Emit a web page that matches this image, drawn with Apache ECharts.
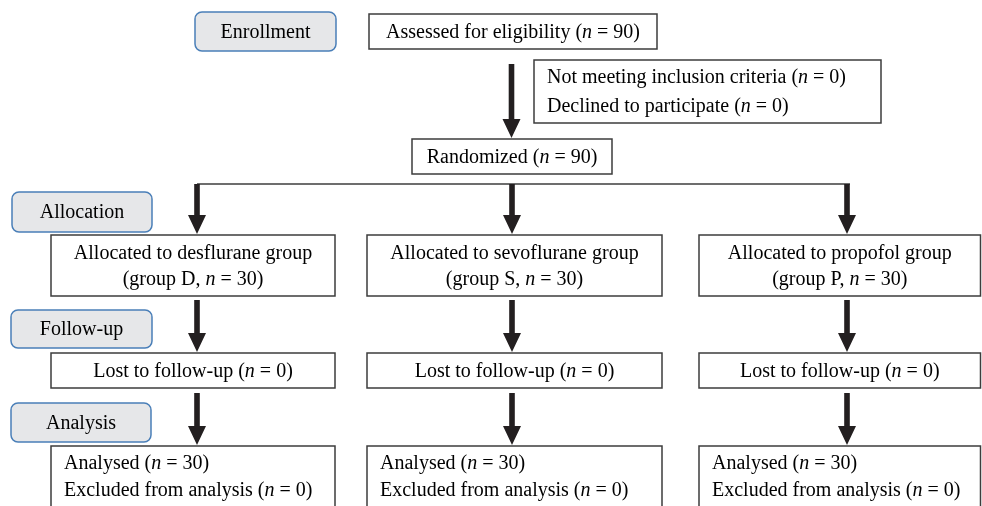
<!DOCTYPE html>
<html>
<head>
    <meta charset="utf-8">
    <title>CONSORT flow diagram</title>
    <script src="https://cdn.jsdelivr.net/npm/echarts@6/dist/echarts.min.js"></script>
    <style>
        body, html { margin: 0; padding: 0; width: 100%; height: 100%; overflow: hidden; background: #fff; }
        #main { width: 982px; height: 506px; }
    </style>
</head>
<body>
    <div id="main"></div>
    <script type="text/javascript">
        // --- data ---
        var stageLabels = ['Enrollment', 'Allocation', 'Follow-up', 'Analysis'];
        var assessedN = 90;
        var notMeetingN = 0;
        var declinedN = 0;
        var randomizedN = 90;
        var groupDrugs = ['desflurane', 'sevoflurane', 'propofol'];
        var groupCodes = ['D', 'S', 'P'];
        var allocatedN = [30, 30, 30];
        var lostN = [0, 0, 0];
        var analysedN = [30, 30, 30];
        var excludedN = [0, 0, 0];

        // --- layout (pixel-like units on hidden 982 x 506 axes) ---
        var stageBoxes = [[195, 12, 336, 51], [12, 192, 152, 232], [11, 310, 152, 348], [11, 403, 151, 442]];
        var colSpan = [[51, 335], [367, 662], [699, 980.5]];
        var colMid = [197, 512, 847];
        var rowAlloc = [235, 296], rowLost = [353, 388], rowAnal = [446, 515];

        var FONT = '"Liberation Serif", "DejaVu Serif", serif';
        function makeRich(lh) {
            return {
                t: { fontFamily: FONT, fontSize: 20, color: '#231f20', lineHeight: lh },
                i: { fontFamily: FONT, fontSize: 20, color: '#231f20', fontStyle: 'italic', lineHeight: lh }
            };
        }
        function nt(label, n) {
            return '{t|' + label + ' (}{i|n}{t| = ' + n + ')}';
        }

        // boxes: [x1, y1, x2, y2, text, align, kind, lineHeight]
        var boxes = [];
        stageLabels.forEach(function (s, k) {
            var b = stageBoxes[k];
            boxes.push([b[0], b[1], b[2], b[3], '{t|' + s + '}', 'center', 'stage', 27]);
        });
        boxes.push([369, 14, 657, 49, nt('Assessed for eligibility', assessedN), 'center', 'box', 27]);
        boxes.push([534, 60, 881, 123, nt('Not meeting inclusion criteria', notMeetingN) + '\n' + nt('Declined to participate', declinedN), 'left', 'box', 29]);
        boxes.push([412, 139, 612, 174, nt('Randomized', randomizedN), 'center', 'box', 27]);
        groupDrugs.forEach(function (d, g) {
            var c = colSpan[g];
            boxes.push([c[0], rowAlloc[0], c[1], rowAlloc[1],
                '{t|Allocated to ' + d + ' group}\n{t|(group ' + groupCodes[g] + ', }{i|n}{t| = ' + allocatedN[g] + ')}', 'center', 'box', 26]);
            boxes.push([c[0], rowLost[0], c[1], rowLost[1], nt('Lost to follow-up', lostN[g]), 'center', 'box', 27]);
            boxes.push([c[0], rowAnal[0], c[1], rowAnal[1],
                nt('Analysed', analysedN[g]) + '\n' + nt('Excluded from analysis', excludedN[g]), 'left', 'anal', 27]);
        });

        // arrows: [x, yStart, yTip]
        var arrows = [[511.5, 64, 138]];
        colMid.forEach(function (x) {
            arrows.push([x, 184, rowAlloc[0] - 1]);
            arrows.push([x, 300, rowLost[0] - 1]);
            arrows.push([x, 393, rowAnal[0] - 1]);
        });

        // connector line: [x1, y1, x2, y2]
        var lines = [[colMid[0], 184, colMid[2] + 3, 184]];

        function renderBox(params, api) {
            var p1 = api.coord([api.value(0), api.value(1)]);
            var p2 = api.coord([api.value(2), api.value(3)]);
            var item = boxes[params.dataIndex];
            var stage = item[6] === 'stage';
            var align = item[5];
            var w = p2[0] - p1[0], h = p2[1] - p1[1];
            var cy = item[6] === 'anal' ? p1[1] + 31 : p1[1] + h / 2 + 1;
            return {
                type: 'group',
                children: [{
                    type: 'rect',
                    shape: { x: p1[0], y: p1[1], width: w, height: h, r: stage ? 7 : 0 },
                    style: { fill: stage ? '#e6e7e9' : '#fff', stroke: stage ? '#4a7fb8' : '#3d3d3d', lineWidth: 1.5 }
                }, {
                    type: 'text',
                    x: align === 'left' ? p1[0] + 13 : p1[0] + w / 2,
                    y: cy,
                    style: { text: item[4], rich: makeRich(item[7]), align: align, verticalAlign: 'middle' }
                }]
            };
        }

        function renderArrow(params, api) {
            var top = api.coord([api.value(0), api.value(1)]);
            var tip = api.coord([api.value(0), api.value(2)]);
            var x = top[0], sw = 2.8, hw = 9, hl = 19;
            return {
                type: 'polygon',
                shape: { points: [[x - sw, top[1]], [x + sw, top[1]], [x + sw, tip[1] - hl], [x + hw, tip[1] - hl],
                    [x, tip[1]], [x - hw, tip[1] - hl], [x - sw, tip[1] - hl]] },
                style: { fill: '#231f20' }
            };
        }

        function renderLine(params, api) {
            var a = api.coord([api.value(0), api.value(1)]);
            var b = api.coord([api.value(2), api.value(3)]);
            return {
                type: 'line',
                shape: { x1: a[0], y1: a[1], x2: b[0], y2: b[1] },
                style: { stroke: '#3d3d3d', lineWidth: 1.5 }
            };
        }

        var myChart = echarts.init(document.getElementById('main'));
        myChart.setOption({
            animation: false,
            grid: { left: 0, right: 0, top: 0, bottom: 0 },
            xAxis: { type: 'value', min: 0, max: 982, show: false },
            yAxis: { type: 'value', min: 0, max: 506, inverse: true, show: false },
            series: [
                { type: 'custom', renderItem: renderLine, data: lines, clip: false },
                { type: 'custom', renderItem: renderArrow, data: arrows, clip: false },
                { type: 'custom', renderItem: renderBox, data: boxes.map(function (b) { return b.slice(0, 4); }), clip: true }
            ]
        });
    </script>
</body>
</html>
